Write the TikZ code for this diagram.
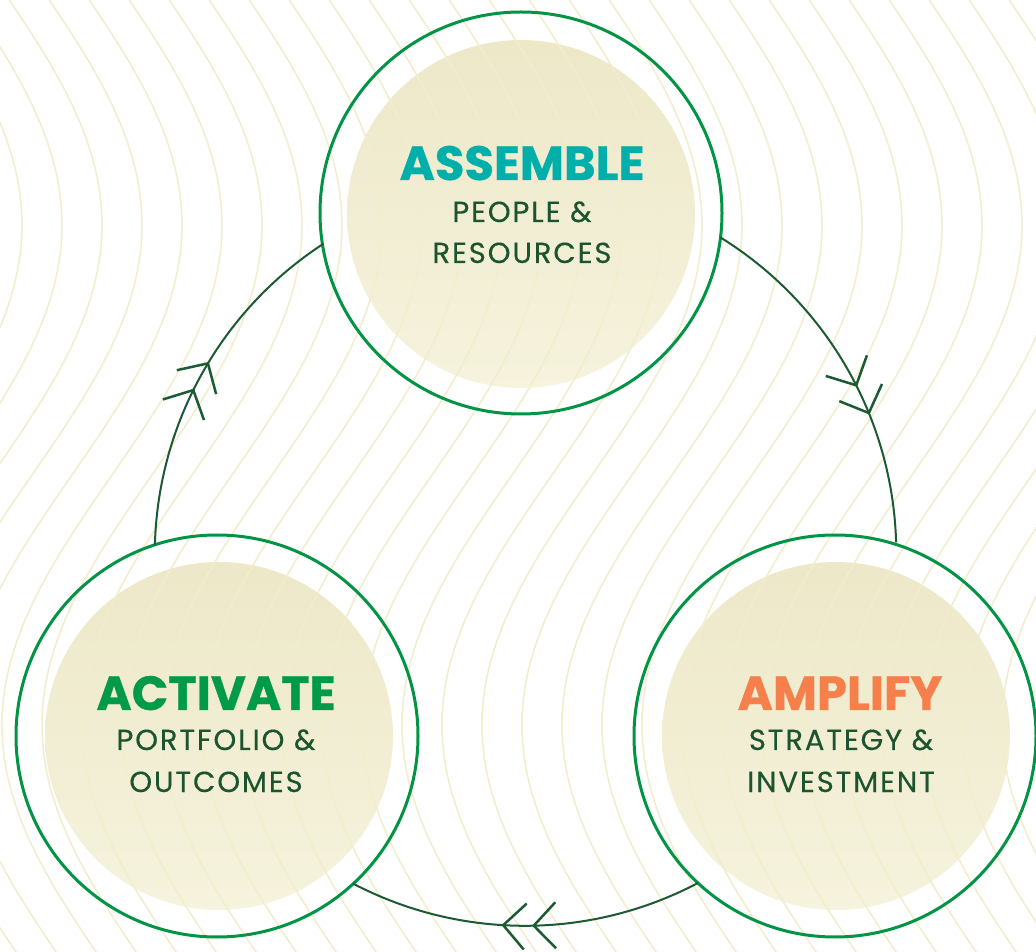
\documentclass[tikz,border=0pt]{standalone}
\usepackage{fontspec}
\setmainfont{Poppins}
\newfontfamily\subfont{Poppins}[LetterSpace=6.5,FakeBold=0.35]
\newfontfamily\headfont{Poppins}[FakeBold=0.6]
\usetikzlibrary{arrows.meta,decorations.markings}
\definecolor{ringgreen}{RGB}{0,148,68}
\definecolor{conngreen}{RGB}{27,90,50}
\definecolor{subgreen}{RGB}{28,84,48}
\definecolor{assemblecol}{RGB}{0,175,170}
\definecolor{activatecol}{RGB}{0,154,72}
\definecolor{amplifycol}{RGB}{245,128,75}
\definecolor{beigetop}{RGB}{237,232,200}
\definecolor{beigebot}{RGB}{246,243,222}
\definecolor{linecol}{RGB}{242,237,202}
\tikzset{chev/.tip={Straight Barb[length=22pt,width=46pt,line width=2.5pt]}}
\begin{document}
\begin{tikzpicture}[x=1pt,y=1pt,
  ring/.style={circle, draw=ringgreen, line width=3pt, minimum size=402pt, inner sep=0pt, outer sep=0pt},
  disk/.style={circle, minimum size=348pt, inner sep=0pt, outer sep=0pt, top color=beigetop, bottom color=beigebot, draw=none},
  conn/.style={draw=conngreen, line width=2pt},
  bgline/.style={draw=linecol, line width=1.5pt},
  titletext/.style={font=\headfont\bfseries\fontsize{48}{48}\selectfont, anchor=base},
  subtext/.style={font=\subfont\fontsize{29}{29}\selectfont, text=subgreen, anchor=base}
]
\useasboundingbox (0,0) rectangle (1036,951);
\fill[white] (0,0) rectangle (1036,951);
% beige disks
\node[disk] (Td) at (521,737) {};
\node[disk] (Ld) at (219,215) {};
\node[disk] (Rd) at (836,215) {};
% background wavy lines
\begin{scope}
\clip (0,0) rectangle (1036,951);
\foreach \xo in {-328,-288,...,1352} {
  \draw[bgline] plot[domain=-20:971, samples=70, smooth, variable=\t] ({\xo + 110*cos(0.36*(\t-225))}, {951-\t});
}
\end{scope}
% rings
\node[ring] (T) at (521,738) {};
\node[ring] (L) at (217,215) {};
\node[ring] (R) at (835,215) {};
% connectors
\draw[conn, postaction={decorate}, decoration={markings,
    mark=at position 0.559 with {\arrow{chev}},
    mark=at position 0.642 with {\arrow{chev}}}]
  (T.-7.58) arc[start angle=58.25, end angle=1.63, radius=371];
\draw[conn, postaction={decorate}, decoration={markings,
    mark=at position 0.482 with {\arrow{chev}},
    mark=at position 0.567 with {\arrow{chev}}}]
  (R.227.06) arc[start angle=-62.2, end angle=-117.6, radius=371];
\draw[conn, postaction={decorate}, decoration={markings,
    mark=at position 0.453 with {\arrow{chev}},
    mark=at position 0.538 with {\arrow{chev}}}]
  (L.108.2) arc[start angle=178.47, end angle=123.1, radius=371];
% texts
\node[titletext, text=assemblecol] (t1) at (522,771) {ASSEMBLE};
\node[subtext] (t1a) at (522,729) {PEOPLE \&};
\node[subtext] (t1b) at (522,688) {RESOURCES};
\node[titletext, text=activatecol] (t2) at (216,241) {ACTIVATE};
\node[subtext] (t2a) at (216,201) {PORTFOLIO \&};
\node[subtext] (t2b) at (216,159) {OUTCOMES};
\node[titletext, text=amplifycol] (t3) at (840,241) {AMPLIFY};
\node[subtext] (t3a) at (841,201) {STRATEGY \&};
\node[subtext] (t3b) at (841,159) {INVESTMENT};
\end{tikzpicture}
\end{document}
